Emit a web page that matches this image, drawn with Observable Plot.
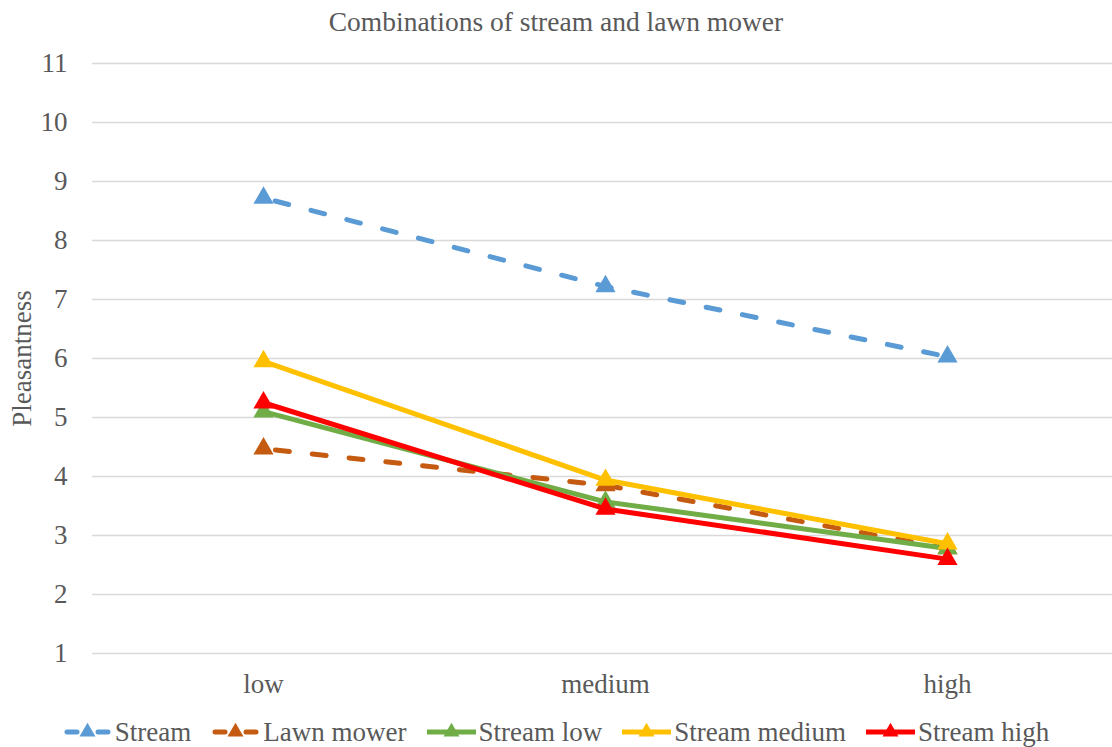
<!DOCTYPE html>
<html>
<head>
<meta charset="utf-8">
<script src="https://cdn.jsdelivr.net/npm/d3@7"></script>
<script src="https://cdn.jsdelivr.net/npm/@observablehq/plot@0.6"></script>
<style>
  html, body { margin: 0; padding: 0; background: #fff; }
  body { width: 1112px; height: 747px; overflow: hidden; font-family: "Liberation Serif", "Times New Roman", serif; color: #595959; }
  #title { height: 40px; line-height: 44px; text-align: center; font-size: 27.5px; white-space: nowrap; }
  #legend { display: flex; justify-content: center; align-items: center; height: 42px; font-size: 27px; margin-top: 6px; }
  .item { display: flex; align-items: center; margin: 0 10px; }
  .item svg { display: block; margin-right: 3px; }
</style>
</head>
<body>
<div id="title">Combinations of stream and lawn mower</div>
<div id="chart"></div>
<div id="legend"></div>
<script>
const categories = ["low", "medium", "high"];
const seriesNames = ["Stream", "Lawn mower", "Stream low", "Stream medium", "Stream high"];
const streamVals = [8.72, 7.22, 6.03];
const lawnMowerVals = [4.47, 3.85, 2.78];
const streamLowVals = [5.10, 3.57, 2.78];
const streamMediumVals = [5.95, 3.94, 2.86];
const streamHighVals = [5.25, 3.45, 2.60];
const yTicks = [1, 2, 3, 4, 5, 6, 7, 8, 9, 10, 11];
const seriesColors = ["#5B9BD5", "#C55A11", "#70AD47", "#FFC000", "#FF0000"];
const seriesDashed = [true, true, false, false, false];

const allVals = [streamVals, lawnMowerVals, streamLowVals, streamMediumVals, streamHighVals];
const series = seriesNames.map((name, i) => ({
  name, color: seriesColors[i], dashed: seriesDashed[i],
  data: categories.map((c, j) => ({cat: c, value: allVals[i][j], series: name}))
}));

const marks = [
  Plot.ruleY(yTicks, {stroke: "#d9d9d9", strokeWidth: 1.3})
];
for (const s of series) {
  marks.push(Plot.lineY(s.data, {
    x: "cat", y: "value", stroke: s.color, strokeWidth: 5,
    strokeDasharray: s.dashed ? "14,23" : null,
    strokeDashoffset: s.dashed ? -12 : null,
    strokeLinecap: s.dashed ? "round" : "butt", strokeLinejoin: "round"
  }));
  marks.push(Plot.dot(s.data, {
    x: "cat", y: "value", symbol: "triangle", r: 7.5, fill: s.color, stroke: "none"
  }));
}
marks.push(Plot.axisY({ticks: yTicks, tickSize: 0, tickPadding: 25, label: null, tickFormat: d => d}));
marks.push(Plot.axisX({tickSize: 0, tickPadding: 20, label: null}));
marks.push(Plot.text(["Pleasantness"], {frameAnchor: "left", textAnchor: "middle", rotate: -90, dx: -70, fill: "#595959", fontSize: 27}));

const chart = Plot.plot({
  width: 1112,
  height: 665,
  marginLeft: 92,
  marginRight: 0,
  marginTop: 23,
  marginBottom: 52,
  x: {type: "point", domain: categories, range: [92, 1118], padding: 0.5},
  y: {domain: [1, 11], range: [613, 23]},
  style: {fontFamily: "'Liberation Serif', 'Times New Roman', serif", fontSize: "27px", color: "#595959", background: "transparent", overflow: "visible"},
  marks
});
document.getElementById("chart").appendChild(chart);

// legend
const legend = d3.select("#legend");
series.forEach(s => {
  const item = legend.append("div").attr("class", "item");
  const sv = item.append("svg").attr("width", 49).attr("height", 20);
  if (s.dashed) {
    sv.append("line").attr("x1", 4).attr("x2", 14).attr("y1", 10).attr("y2", 10)
      .attr("stroke", s.color).attr("stroke-width", 5).attr("stroke-linecap", "round");
    sv.append("line").attr("x1", 35).attr("x2", 45).attr("y1", 10).attr("y2", 10)
      .attr("stroke", s.color).attr("stroke-width", 5).attr("stroke-linecap", "round");
  } else {
    sv.append("line").attr("x1", 0).attr("x2", 49).attr("y1", 10).attr("y2", 10)
      .attr("stroke", s.color).attr("stroke-width", 5);
  }
  sv.append("path").attr("d", d3.symbol(d3.symbolTriangle, 110)()).attr("transform", "translate(24.5,10)").attr("fill", s.color);
  item.append("span").text(s.name);
});
</script>
</body>
</html>
